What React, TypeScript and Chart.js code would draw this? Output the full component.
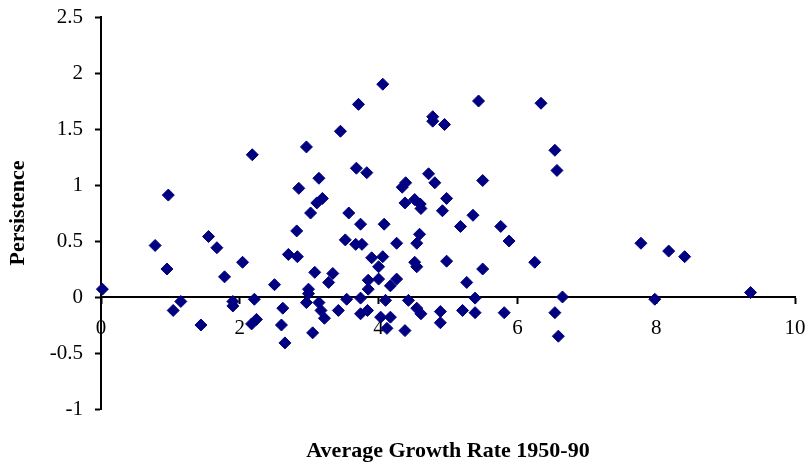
import React, { useEffect, useRef } from "react";
import { Chart, registerables } from "chart.js";

Chart.register(...registerables);

// Average growth rate 1950-90 (x) and persistence (y)
const growthRate = [
  0.02, 2.18, 0.97, 0.78, 0.95, 1.55, 1.67, 2.04, 1.78, 1.15, 1.04, 1.44, 1.9, 1.9, 2.21, 2.24, 2.17,
  4.06, 3.71, 3.45, 2.96, 3.68, 3.83, 3.14, 2.85, 3.19, 3.11, 3.02, 3.57, 3.74, 4.08, 2.82, 3.52,
  3.67, 3.76, 2.7, 2.83, 3.9, 4.06, 4.0, 3.08, 3.34, 3.28, 2.5, 2.99, 3.85, 3.85, 4.0, 4.17, 2.99,
  2.96, 3.54, 3.74, 3.14, 2.62, 3.17, 3.42, 3.74, 3.84, 3.22, 2.6, 3.05, 2.65, 4.03, 4.1, 4.12,
  5.44, 4.78, 4.78, 4.95, 4.72, 4.81, 4.39, 4.34, 5.5, 4.98, 4.38, 4.52, 4.6, 4.61, 4.92, 5.36,
  5.18, 5.76, 5.88, 4.59, 4.55, 4.26, 4.98, 4.52, 4.55, 5.5, 4.26, 5.27, 4.43, 5.39, 4.55, 4.61,
  4.89, 5.21, 5.39, 5.81, 4.17, 4.89, 4.38, 6.34, 6.54, 6.57, 6.25, 6.65, 6.54, 6.59, 7.78, 8.18,
  8.41, 7.98, 9.36,
];
const persistence = [
  0.07, 1.27, 0.91, 0.46, 0.25, 0.54, 0.44, 0.31, 0.18, -0.04, -0.12, -0.25, -0.04, -0.08, -0.02, -0.2, -0.24,
  1.9, 1.72, 1.48, 1.34, 1.15, 1.11, 1.06, 0.97, 0.88, 0.84, 0.75, 0.75, 0.65, 0.65, 0.59, 0.51,
  0.47, 0.47, 0.38, 0.36, 0.35, 0.36, 0.27, 0.22, 0.21, 0.13, 0.11, 0.07, 0.15, 0.07, 0.16, 0.1, 0.03,
  -0.05, -0.02, -0.01, -0.05, -0.1, -0.12, -0.12, -0.15, -0.12, -0.19, -0.25, -0.32, -0.41, -0.18, -0.03, -0.28,
  1.75, 1.61, 1.57, 1.54, 1.1, 1.02, 1.02, 0.98, 1.04, 0.88, 0.84, 0.87, 0.83, 0.79, 0.77, 0.73,
  0.63, 0.63, 0.5, 0.56, 0.48, 0.48, 0.32, 0.31, 0.27, 0.25, 0.16, 0.13, -0.03, -0.01, -0.1, -0.15,
  -0.13, -0.12, -0.14, -0.14, -0.18, -0.23, -0.3, 1.73, 1.31, 1.13, 0.31, 0.0, -0.14, -0.35, 0.48, 0.41,
  0.36, -0.02, 0.04,
];

const xRange = [0, 10];
const xStep = 2;
const yRange = [-1, 2.5];
const yStep = 0.5;
const xTitle = "Average Growth Rate 1950-90";
const yTitle = "Persistence";

const SERIF = "'Liberation Serif', 'Times New Roman', Times, serif";
const NAVY = "#000080";

export default function App() {
  const canvasRef = useRef<HTMLCanvasElement | null>(null);

  useEffect(() => {
    const canvas = canvasRef.current;
    if (!canvas) return;

    const xTitlePlugin = {
      id: "xTitlePlugin",
      afterDraw(chart: any) {
        const ctx = chart.ctx;
        const { left, right } = chart.chartArea;
        ctx.save();
        ctx.font = `bold 22px ${SERIF}`;
        ctx.fillStyle = "#000";
        ctx.textAlign = "center";
        ctx.textBaseline = "middle";
        ctx.fillText(xTitle, (left + right) / 2, chart.height - 19);
        ctx.restore();
      },
    };

    const chart = new Chart(canvas, {
      type: "scatter",
      data: {
        datasets: [
          {
            label: yTitle,
            data: growthRate.map((x, i) => ({ x, y: persistence[i] })),
            pointStyle: "rectRot",
            pointRadius: 6,
            pointBorderWidth: 1,
            backgroundColor: NAVY,
            borderColor: NAVY,
            clip: false as any,
          },
        ],
      },
      options: {
        responsive: false,
        animation: false,
        layout: { padding: { top: 17, right: 14, bottom: 61, left: 0 } },
        plugins: {
          legend: { display: false },
          tooltip: { enabled: false },
          title: { display: false },
        },
        scales: {
          x: {
            type: "linear",
            position: { y: 0 } as any,
            min: xRange[0],
            max: xRange[1],
            ticks: {
              stepSize: xStep,
              color: "#000",
              font: { family: SERIF, size: 21 },
              padding: 13,
              maxRotation: 0,
              callback: (v: any) => String(v),
            },
            grid: {
              drawOnChartArea: false,
              drawTicks: true,
              tickLength: 6,
              tickWidth: 2,
              color: "#000",
            },
            border: { display: true, color: "#000", width: 2 },
            afterFit: (scale: any) => {
              scale.paddingLeft = 0;
              scale.paddingRight = 0;
            },
          },
          y: {
            type: "linear",
            position: "left",
            min: yRange[0],
            max: yRange[1],
            ticks: {
              stepSize: yStep,
              color: "#000",
              font: { family: SERIF, size: 21 },
              padding: 12,
              callback: (v: any) => String(v),
            },
            grid: {
              drawOnChartArea: false,
              drawTicks: true,
              tickLength: 6,
              tickWidth: 2,
              color: "#000",
            },
            border: { display: true, color: "#000", width: 2 },
            title: {
              display: true,
              text: yTitle,
              color: "#000",
              font: { family: SERIF, size: 22, weight: "bold" },
              padding: { top: 5, bottom: 0 },
            },
            afterFit: (scale: any) => {
              scale.width = 101;
              scale.paddingTop = 0;
              scale.paddingBottom = 0;
            },
          },
        },
      },
      plugins: [xTitlePlugin],
    });

    return () => chart.destroy();
  }, []);

  return (
    <div style={{ position: "absolute", left: 0, top: 0, width: 809, height: 470, background: "#fff" }}>
      <canvas ref={canvasRef} width={809} height={470} style={{ display: "block" }} />
    </div>
  );
}
